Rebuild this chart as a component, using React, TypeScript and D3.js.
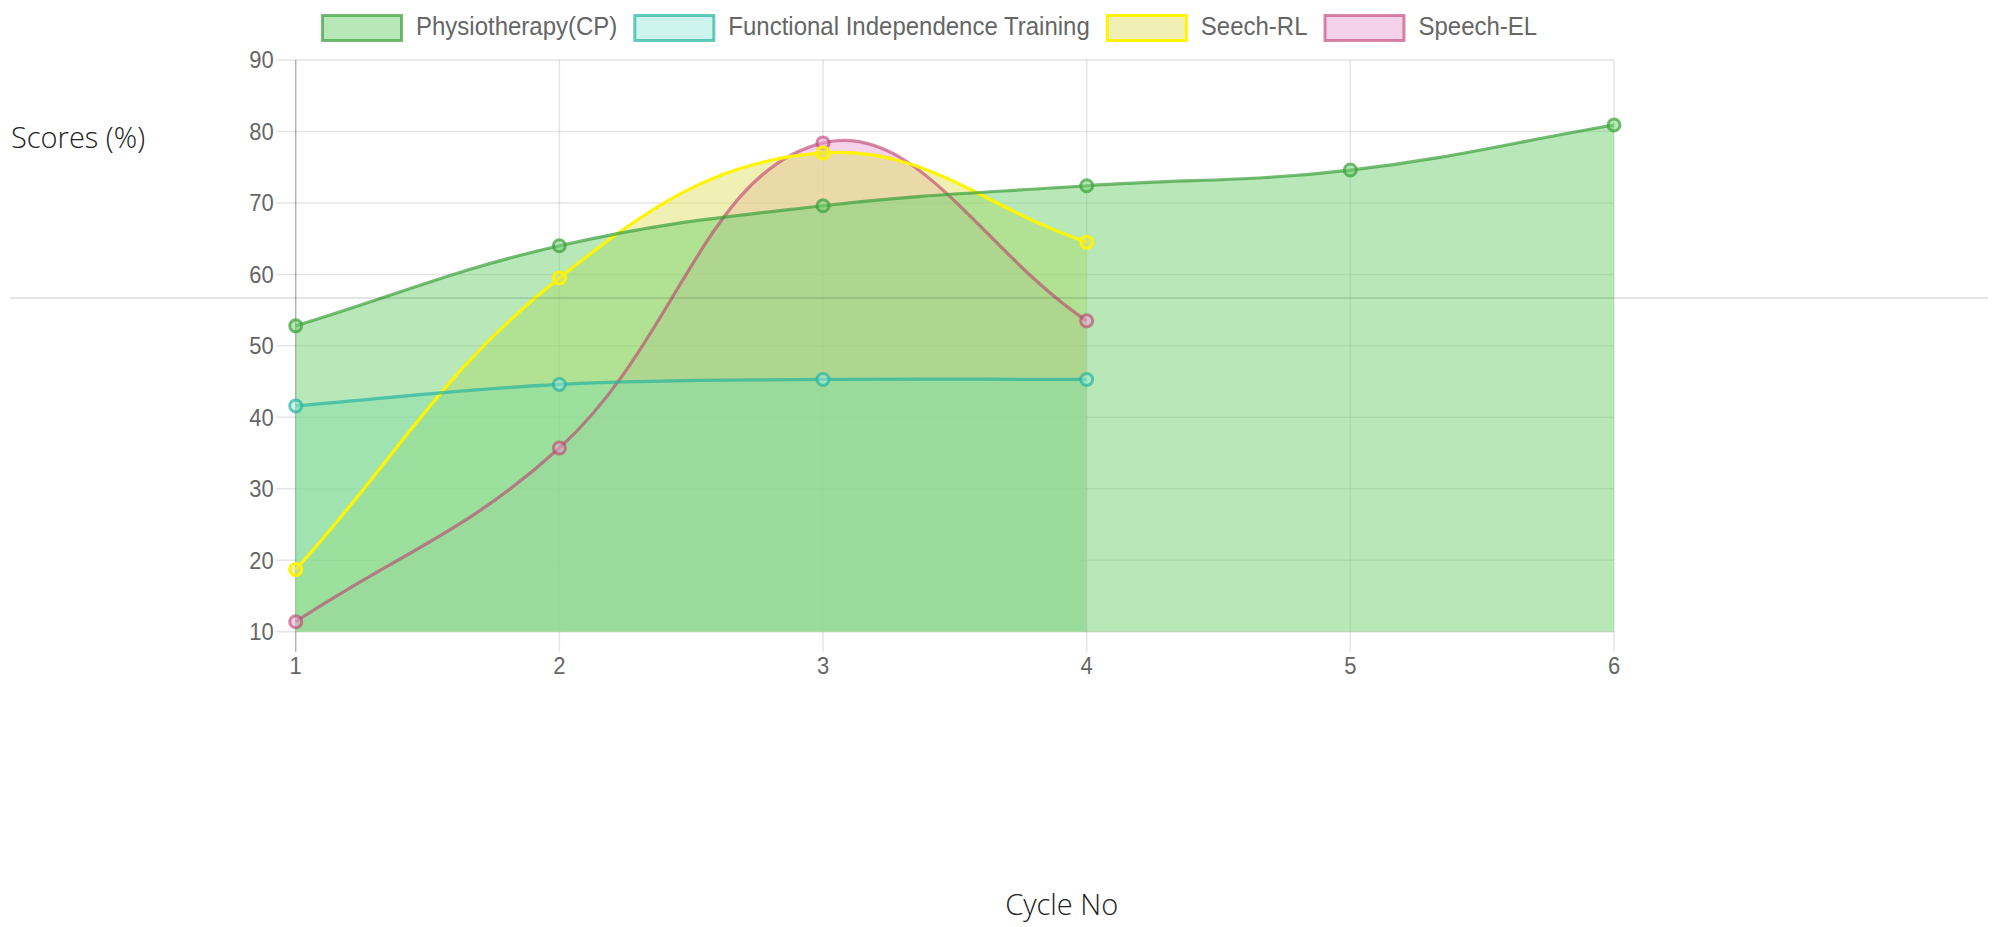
import React, { useEffect, useRef } from "react";
import * as d3 from "d3";

const cycles = [1, 2, 3, 4, 5, 6];
const physiotherapy = [52.8, 64.0, 69.6, 72.4, 74.6, 80.9];
const functionalIndependence = [41.6, 44.6, 45.3, 45.3];
const speechRL = [18.7, 59.5, 77.0, 64.5];
const speechEL = [11.4, 35.7, 78.4, 53.5];
const yTicks = [10, 20, 30, 40, 50, 60, 70, 80, 90];
const seriesNames = ["Physiotherapy(CP)", "Functional Independence Training", "Seech-RL", "Speech-EL"];
const seriesValues = [physiotherapy, functionalIndependence, speechRL, speechEL];
const seriesStroke = ["rgba(60,160,60,0.7)", "rgba(40,180,160,0.7)", "rgb(255,245,0)", "rgba(190,60,110,0.6)"];
const seriesFill = ["rgba(113,209,113,0.5)", "rgba(155,235,221,0.5)", "rgba(225,225,105,0.5)", "rgba(231,165,213,0.5)"];

const W = 1999;
const H = 927;

function chartJsCurve(tension: number) {
  return function (context: any) {
    let pts: [number, number][] = [];
    let line = NaN;
    return {
      areaStart() { line = 0; },
      areaEnd() { line = NaN; },
      lineStart() { pts = []; },
      point(x: number, y: number) { pts.push([+x, +y]); },
      lineEnd() {
        const n = pts.length;
        if (n) {
          if (line) context.lineTo(pts[0][0], pts[0][1]);
          else context.moveTo(pts[0][0], pts[0][1]);
          const cps = pts.map((cur, i) => {
            const prev = pts[Math.max(0, i - 1)];
            const next = pts[Math.min(n - 1, i + 1)];
            const d01 = Math.hypot(cur[0] - prev[0], cur[1] - prev[1]);
            const d12 = Math.hypot(next[0] - cur[0], next[1] - cur[1]);
            let s01 = d01 / (d01 + d12);
            let s12 = d12 / (d01 + d12);
            if (isNaN(s01)) s01 = 0;
            if (isNaN(s12)) s12 = 0;
            const fa = tension * s01;
            const fb = tension * s12;
            return {
              p: [cur[0] - fa * (next[0] - prev[0]), cur[1] - fa * (next[1] - prev[1])],
              n: [cur[0] + fb * (next[0] - prev[0]), cur[1] + fb * (next[1] - prev[1])],
            };
          });
          for (let i = 1; i < n; i++) {
            context.bezierCurveTo(cps[i - 1].n[0], cps[i - 1].n[1], cps[i].p[0], cps[i].p[1], pts[i][0], pts[i][1]);
          }
        }
        if (line || (line !== 0 && n === 1)) context.closePath();
        line = 1 - line;
      },
    };
  };
}

export default function App() {
  const ref = useRef<SVGSVGElement | null>(null);

  useEffect(() => {
    const svg = d3.select(ref.current);
    svg.selectAll("*").remove();

    const x = d3.scaleLinear().domain([1, 6]).range([295.7, 1614]);
    const y = d3.scaleLinear().domain([10, 90]).range([631.7, 60]);
    const tickFont = "'Liberation Sans', Arial, Helvetica, sans-serif";
    const vStretch = 1.1;

    // grid
    const grid = svg.append("g");
    grid.selectAll("line.h").data(yTicks).join("line")
      .attr("x1", x(1) - 20).attr("x2", x(6))
      .attr("y1", (d) => y(d)).attr("y2", (d) => y(d))
      .attr("stroke", "rgba(0,0,0,0.1)").attr("stroke-width", 1.5);
    grid.selectAll("line.v").data(cycles).join("line")
      .attr("x1", (d) => x(d)).attr("x2", (d) => x(d))
      .attr("y1", y(90)).attr("y2", y(10) + 20)
      .attr("stroke", (d) => (d === 1 ? "rgba(0,0,0,0.3)" : "rgba(0,0,0,0.1)"))
      .attr("stroke-width", 1.5);

    // tick labels
    svg.append("g").selectAll("text").data(yTicks).join("text")
      .attr("transform", (d) => `translate(${x(1) - 22},${y(d)}) scale(1,${vStretch})`)
      .attr("dy", "0.35em")
      .attr("text-anchor", "end").attr("font-family", tickFont).attr("font-size", 22)
      .attr("fill", "#666").text((d) => String(d));
    svg.append("g").selectAll("text").data(cycles).join("text")
      .attr("transform", (d) => `translate(${x(d)},674) scale(1,${vStretch})`)
      .attr("text-anchor", "middle").attr("font-family", tickFont).attr("font-size", 22)
      .attr("fill", "#666").text((d) => String(d));

    const curve = chartJsCurve(0.4) as any;
    const order = [3, 2, 1, 0];

    // fills
    order.forEach((si) => {
      const vals = seriesValues[si];
      const area = d3.area<number>()
        .x((_, i) => x(cycles[i]))
        .y0(y(10))
        .y1((d) => y(d))
        .curve(curve);
      svg.append("path").attr("d", area(vals) as string).attr("fill", seriesFill[si]);
    });

    // lines and points
    order.forEach((si) => {
      const vals = seriesValues[si];
      const line = d3.line<number>().x((_, i) => x(cycles[i])).y((d) => y(d)).curve(curve);
      svg.append("path").attr("d", line(vals) as string).attr("fill", "none")
        .attr("stroke", seriesStroke[si]).attr("stroke-width", 3.2);
      svg.append("g").selectAll("circle").data(vals).join("circle")
        .attr("cx", (_, i) => x(cycles[i])).attr("cy", (d) => y(d)).attr("r", 6)
        .attr("fill", seriesFill[si]).attr("stroke", seriesStroke[si]).attr("stroke-width", 3);
    });

    // legend
    const lg = svg.append("g");
    let cursor = 321;
    seriesNames.forEach((name, si) => {
      lg.append("rect").attr("x", cursor + 1.5).attr("y", 15.5).attr("width", 79).attr("height", 25)
        .attr("fill", seriesFill[si])
        .attr("stroke", seriesStroke[si]).attr("stroke-width", 3);
      const t = lg.append("text")
        .attr("transform", `translate(${cursor + 95},35) scale(1,${vStretch})`)
        .attr("font-family", tickFont).attr("font-size", 24).attr("fill", "#666").text(name);
      const tw = (t.node() as SVGTextElement).getComputedTextLength();
      cursor = cursor + 95 + tw + 16;
    });

    // hr line
    svg.append("line").attr("x1", 10).attr("x2", 1988).attr("y1", 298).attr("y2", 298)
      .attr("stroke", "rgba(0,0,0,0.1)").attr("stroke-width", 2);

    // axis titles
    const titleFont = "'Open Sans', 'Noto Sans', sans-serif";
    svg.append("text").attr("x", 11).attr("y", 148).attr("font-family", titleFont)
      .attr("font-weight", 300).attr("font-size", 29).attr("fill", "#222").text("Scores (%)");
    svg.append("text").attr("x", 1061.7).attr("y", 915).attr("text-anchor", "middle")
      .attr("font-family", titleFont).attr("font-weight", 300).attr("font-size", 29)
      .attr("fill", "#222").text("Cycle No");
  }, []);

  return (
    <div style={{ position: "absolute", left: 0, top: 0, width: W, height: H, background: "#fff" }}>
      <svg ref={ref} width={W} height={H} style={{ display: "block" }} />
    </div>
  );
}
